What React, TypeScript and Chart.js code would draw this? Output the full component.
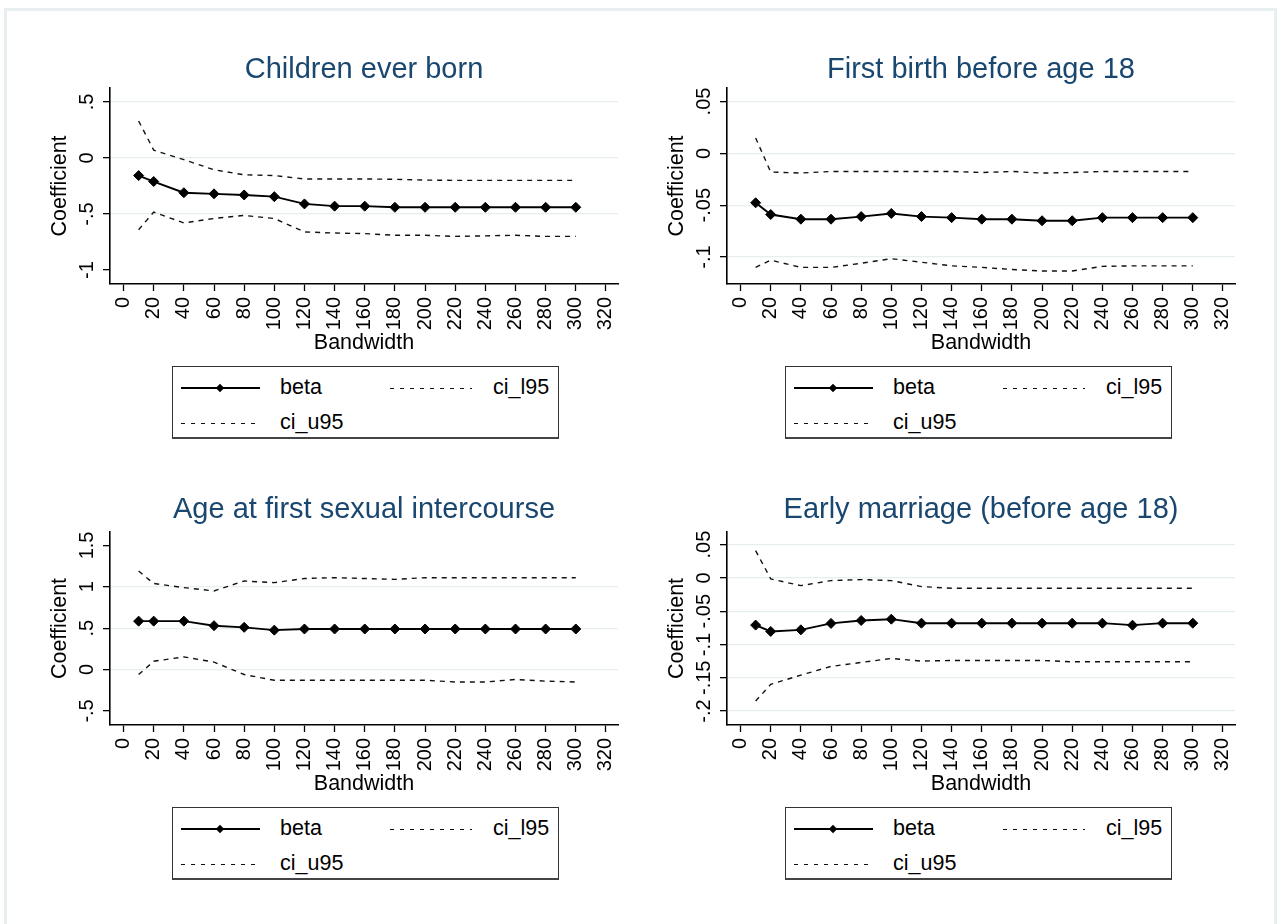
import React, { useEffect, useRef } from "react";
import { Chart, registerables } from "chart.js";

Chart.register(...registerables);

const FONT = "'Liberation Sans', Arial, Helvetica, sans-serif";

// ---------- data ----------
const bandwidths = [10, 20, 40, 60, 80, 100, 120, 140, 160, 180, 200, 220, 240, 260, 280, 300];
const xTickValues = [0, 20, 40, 60, 80, 100, 120, 140, 160, 180, 200, 220, 240, 260, 280, 300, 320];
const seriesNames = ["beta", "ci_l95", "ci_u95"];

// Panel 1: Children ever born
const cebTitle = "Children ever born";
const cebBeta = [-0.157, -0.21, -0.31, -0.32, -0.33, -0.345, -0.41, -0.43, -0.43, -0.44, -0.44, -0.44, -0.44, -0.44, -0.44, -0.44];
const cebLo = [-0.64, -0.483, -0.58, -0.54, -0.513, -0.54, -0.66, -0.67, -0.675, -0.69, -0.69, -0.7, -0.695, -0.69, -0.7, -0.7];
const cebHi = [0.33, 0.07, -0.015, -0.105, -0.15, -0.157, -0.187, -0.187, -0.187, -0.19, -0.197, -0.2, -0.2, -0.2, -0.2, -0.2];
const cebTicks = [-1, -0.5, 0, 0.5];
const cebGrid = [-0.5, 0, 0.5];

// Panel 2: First birth before age 18
const fbTitle = "First birth before age 18";
const fbBeta = [-0.0477, -0.059, -0.0635, -0.0635, -0.061, -0.058, -0.061, -0.062, -0.0635, -0.0635, -0.065, -0.065, -0.062, -0.062, -0.062, -0.062];
const fbLo = [-0.11, -0.103, -0.11, -0.11, -0.106, -0.1016, -0.105, -0.1085, -0.11, -0.112, -0.1135, -0.1135, -0.109, -0.1085, -0.1085, -0.1085];
const fbHi = [0.0148, -0.018, -0.019, -0.0175, -0.0175, -0.0175, -0.0175, -0.0175, -0.0185, -0.0175, -0.019, -0.0185, -0.0175, -0.0175, -0.0175, -0.0175];
const fbTicks = [-0.1, -0.05, 0, 0.05];
const fbGrid = [-0.1, -0.05, 0, 0.05];

// Panel 3: Age at first sexual intercourse
const afsTitle = "Age at first sexual intercourse";
const afsBeta = [0.585, 0.585, 0.585, 0.53, 0.51, 0.476, 0.49, 0.49, 0.49, 0.49, 0.49, 0.49, 0.49, 0.49, 0.49, 0.49];
const afsLo = [-0.06, 0.1, 0.153, 0.09, -0.06, -0.13, -0.13, -0.13, -0.13, -0.13, -0.13, -0.15, -0.15, -0.12, -0.14, -0.15];
const afsHi = [1.19, 1.04, 0.99, 0.95, 1.07, 1.05, 1.1, 1.11, 1.1, 1.09, 1.11, 1.11, 1.11, 1.11, 1.11, 1.11];
const afsTicks = [-0.5, 0, 0.5, 1, 1.5];
const afsGrid = [0, 0.5, 1];

// Panel 4: Early marriage (before age 18)
const emTitle = "Early marriage (before age 18)";
const emBeta = [-0.0709, -0.0804, -0.078, -0.0683, -0.064, -0.062, -0.068, -0.068, -0.068, -0.068, -0.068, -0.068, -0.068, -0.071, -0.068, -0.068];
const emLo = [-0.185, -0.16, -0.146, -0.133, -0.127, -0.121, -0.125, -0.124, -0.124, -0.124, -0.124, -0.126, -0.126, -0.126, -0.126, -0.126];
const emHi = [0.041, -0.0015, -0.0116, -0.004, -0.0025, -0.004, -0.013, -0.0156, -0.0156, -0.0156, -0.0156, -0.0156, -0.0156, -0.0156, -0.0156, -0.0156];
const emTicks = [-0.2, -0.15, -0.1, -0.05, 0, 0.05];
const emGrid = [-0.2, -0.15, -0.1, -0.05, 0, 0.05];

// ---------- helpers ----------
const fmt = (v: number) => {
  if (Math.abs(v) < 1e-9) return "0";
  const s = String(Math.round(v * 1000) / 1000);
  return s.replace(/^(-?)0\./, "$1.");
};

const toPts = (ys: number[]) => bandwidths.map((x, i) => ({ x, y: ys[i] }));

const yLabelPlugin = {
  id: "yRotLabels",
  afterDraw(chart: any) {
    const s = chart.scales.y;
    const ctx = chart.ctx;
    ctx.save();
    ctx.fillStyle = "#000";
    ctx.font = `20px ${FONT}`;
    ctx.textAlign = "center";
    ctx.textBaseline = "middle";
    for (const t of s.ticks) {
      const y = s.getPixelForValue(t.value);
      ctx.save();
      ctx.translate(chart.chartArea.left - 23, y);
      ctx.rotate(-Math.PI / 2);
      ctx.fillText(fmt(t.value), 0, 0);
      ctx.restore();
    }
    ctx.restore();
  },
};

type PanelProps = {
  title: string;
  beta: number[];
  lo: number[];
  hi: number[];
  yTicks: number[];
  grid: number[];
  yMin: number;
  yMax: number;
  left: number;
  top: number;
  titlePadTop: number;
  titlePadBottom: number;
  padBottom: number;
};

const CW = 610;
const CH = 330;

function Panel(p: PanelProps) {
  const ref = useRef<HTMLCanvasElement>(null);
  useEffect(() => {
    if (!ref.current) return;
    const chart = new Chart(ref.current, {
      type: "line",
      data: {
        datasets: [
          {
            label: seriesNames[0],
            data: toPts(p.beta),
            borderColor: "#000",
            borderWidth: 1.9,
            pointStyle: "rectRot",
            pointRadius: 5,
            pointBackgroundColor: "#000",
            pointBorderColor: "#000",
            pointBorderWidth: 1,
            tension: 0,
          },
          {
            label: seriesNames[1],
            data: toPts(p.lo),
            borderColor: "#111",
            borderWidth: 1.4,
            borderDash: [5, 5],
            pointRadius: 0,
            tension: 0,
          },
          {
            label: seriesNames[2],
            data: toPts(p.hi),
            borderColor: "#111",
            borderWidth: 1.4,
            borderDash: [5, 5],
            pointRadius: 0,
            tension: 0,
          },
        ],
      } as any,
      options: {
        animation: false,
        responsive: false,
        devicePixelRatio: 1,
        layout: { padding: { left: 0, right: 12, top: 0, bottom: p.padBottom } },
        plugins: {
          legend: { display: false },
          tooltip: { enabled: false },
          title: {
            display: true,
            text: p.title,
            color: "#1a476f",
            fullSize: false,
            font: { family: FONT, size: 29, weight: "normal" },
            padding: { top: p.titlePadTop, bottom: p.titlePadBottom },
          },
        },
        scales: {
          x: {
            type: "linear",
            position: "bottom",
            min: -9,
            max: 328,
            afterBuildTicks: (s: any) => {
              s.ticks = xTickValues.map((v) => ({ value: v }));
            },
            afterFit: (s: any) => {
              s.height = 80;
              s.paddingLeft = 0;
              s.paddingRight = 0;
            },
            ticks: {
              autoSkip: false,
              minRotation: 90,
              maxRotation: 90,
              padding: 6,
              color: "#000",
              font: { family: FONT, size: 20 },
              callback: (v: any) => String(v),
            },
            grid: {
              drawOnChartArea: false,
              drawTicks: true,
              tickLength: 7,
              tickColor: "#000",
              tickWidth: 1.3,
            },
            border: { display: true, color: "#000", width: 1.6 },
            title: {
              display: true,
              text: "Bandwidth",
              color: "#000",
              font: { family: FONT, size: 21.5 },
              padding: { top: 0, bottom: 8.1 },
            },
          },
          y: {
            type: "linear",
            min: p.yMin,
            max: p.yMax,
            afterBuildTicks: (s: any) => {
              s.ticks = p.yTicks.map((v) => ({ value: v }));
            },
            afterFit: (s: any) => {
              s.width = 90;
              s.paddingTop = 0;
              s.paddingBottom = 0;
            },
            ticks: { display: false },
            grid: {
              drawOnChartArea: true,
              color: (ctx: any) =>
                ctx.tick && p.grid.some((g) => Math.abs(g - ctx.tick.value) < 1e-9)
                  ? "#e6eef0"
                  : "rgba(0,0,0,0)",
              lineWidth: 1.3,
              drawTicks: true,
              tickLength: 7,
              tickColor: "#000",
              tickWidth: 1.3,
            },
            border: { display: true, color: "#000", width: 1.6 },
            title: {
              display: true,
              text: "Coefficient",
              color: "#000",
              font: { family: FONT, size: 21.5 },
              padding: { top: 27.1, bottom: 0 },
            },
          },
        },
      } as any,
      plugins: [yLabelPlugin],
    });
    return () => chart.destroy();
  }, []);
  return (
    <canvas
      ref={ref}
      width={CW}
      height={CH}
      style={{ position: "absolute", left: p.left, top: p.top, width: CW, height: CH }}
    />
  );
}

function SolidKey({ x, y }: { x: number; y: number }) {
  return (
    <div style={{ position: "absolute", left: x, top: y - 1, width: 79, height: 2, background: "#000" }}>
      <div
        style={{
          position: "absolute",
          left: 39 - 3,
          top: 1 - 3,
          width: 6,
          height: 6,
          background: "#000",
          transform: "rotate(45deg)",
        }}
      />
    </div>
  );
}

function DashKey({ x, y, w }: { x: number; y: number; w: number }) {
  return (
    <div
      style={{
        position: "absolute",
        left: x,
        top: y - 0.5,
        width: w,
        height: 1.5,
        background: "repeating-linear-gradient(to right, #111 0px, #111 4px, transparent 4px, transparent 10px)",
      }}
    />
  );
}

function LegendText({ x, y, text }: { x: number; y: number; text: string }) {
  return (
    <span
      style={{
        position: "absolute",
        left: x,
        top: y,
        transform: "translateY(-52%)",
        lineHeight: 1,
        whiteSpace: "nowrap",
      }}
    >
      {text}
    </span>
  );
}

function Legend({ left, top }: { left: number; top: number }) {
  return (
    <div
      style={{
        position: "absolute",
        left,
        top,
        width: 387,
        height: 73,
        boxSizing: "border-box",
        border: "1px solid #333",
        borderBottom: "2px solid #444",
        background: "#fff",
        fontFamily: FONT,
        fontSize: 21.5,
        color: "#000",
      }}
    >
      <SolidKey x={8} y={21} />
      <LegendText x={107} y={21} text={seriesNames[0]} />
      <DashKey x={217} y={21} w={82} />
      <LegendText x={320} y={21} text={seriesNames[1]} />
      <DashKey x={8} y={56} w={80} />
      <LegendText x={107} y={56} text={seriesNames[2]} />
    </div>
  );
}

export default function App() {
  const panels: PanelProps[] = [
    { title: cebTitle, beta: cebBeta, lo: cebLo, hi: cebHi, yTicks: cebTicks, grid: cebGrid, yMin: -1.125, yMax: 0.625, left: 20, top: 40, titlePadTop: 12.6, titlePadBottom: 0.6, padBottom: 6 },
    { title: fbTitle, beta: fbBeta, lo: fbLo, hi: fbHi, yTicks: fbTicks, grid: fbGrid, yMin: -0.126, yMax: 0.063, left: 637, top: 40, titlePadTop: 12.6, titlePadBottom: 0.6, padBottom: 6 },
    { title: afsTitle, beta: afsBeta, lo: afsLo, hi: afsHi, yTicks: afsTicks, grid: afsGrid, yMin: -0.67, yMax: 1.662, left: 20, top: 484, titlePadTop: 8.6, titlePadBottom: 4.6, padBottom: 9 },
    { title: emTitle, beta: emBeta, lo: emLo, hi: emHi, yTicks: emTicks, grid: emGrid, yMin: -0.221, yMax: 0.069, left: 637, top: 484, titlePadTop: 8.6, titlePadBottom: 4.6, padBottom: 9 },
  ];
  const legends = [
    { left: 172, top: 366 },
    { left: 785, top: 366 },
    { left: 172, top: 807 },
    { left: 785, top: 807 },
  ];
  return (
    <div
      style={{
        position: "fixed",
        left: 0,
        top: 0,
        width: 1281,
        height: 924,
        background: "#fff",
        overflow: "hidden",
      }}
    >
      <div
        style={{
          position: "absolute",
          left: 4,
          top: 8,
          width: 1273,
          height: 940,
          boxSizing: "border-box",
          border: "3px solid #e8eff1",
          borderBottom: "none",
        }}
      />
      {panels.map((p, i) => (
        <Panel key={i} {...p} />
      ))}
      {legends.map((l, i) => (
        <Legend key={i} left={l.left} top={l.top} />
      ))}
    </div>
  );
}
